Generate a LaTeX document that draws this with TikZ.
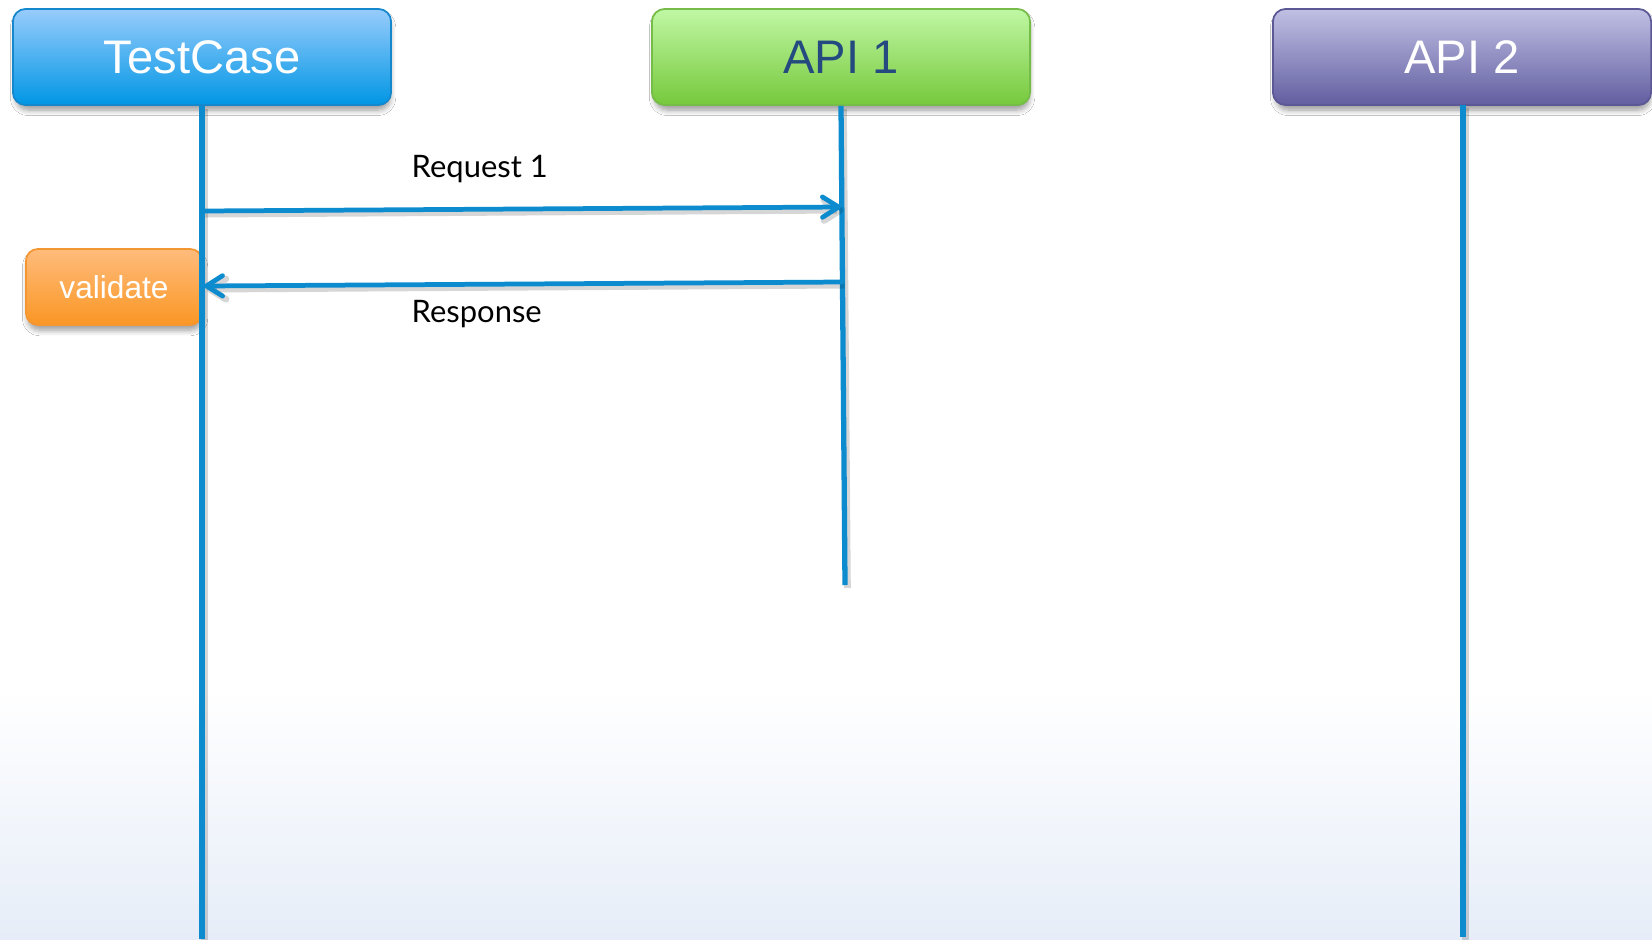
\documentclass[tikz,border=0pt]{standalone}
\usepackage{fontspec}
\setmainfont{Liberation Sans}
\newfontfamily\labelfont{Lato}
\usetikzlibrary{arrows.meta,shadows.blur}

\definecolor{wire}{RGB}{12,140,206}
\definecolor{bgblue}{RGB}{230,237,248}
\definecolor{tctop}{RGB}{152,204,252}
\definecolor{tcbot}{RGB}{0,150,228}
\definecolor{tcline}{RGB}{20,135,205}
\definecolor{atop}{RGB}{192,248,164}
\definecolor{abot}{RGB}{118,200,60}
\definecolor{aline}{RGB}{118,188,72}
\definecolor{atext}{RGB}{36,74,128}
\definecolor{btop}{RGB}{192,192,228}
\definecolor{bbot}{RGB}{98,94,160}
\definecolor{bline}{RGB}{92,88,150}
\definecolor{vtop}{RGB}{255,188,124}
\definecolor{vbot}{RGB}{250,150,36}
\definecolor{vline}{RGB}{244,150,50}

\tikzset{
  softshadow/.style={blur shadow={shadow xshift=0.3pt, shadow yshift=-1.6pt,
    shadow scale=0.99, shadow blur radius=1.6pt, shadow blur steps=8, shadow opacity=40}},
  header/.style={rounded corners=3.6pt, minimum width=3.78cm, minimum height=0.96cm,
    inner sep=0pt, font=\fontsize{13.4}{16}\selectfont, line width=0.5pt, softshadow},
  validbox/.style={rounded corners=3.4pt, minimum width=1.76cm, minimum height=0.76cm,
    inner sep=0pt, font=\fontsize{9}{11}\selectfont, text=white, line width=0.5pt,
    top color=vtop, bottom color=vbot, draw=vline, softshadow},
  wireshadow/.style={preaction={draw=black, draw opacity=0.16, line width=1.9pt,
    transform canvas={shift={(0.7pt,-0.9pt)}}}},
  lifeline/.style={draw=wire, line width=1.5pt, wireshadow},
  message/.style={draw=wire, line width=1.35pt, line cap=round, wireshadow,
    -{Straight Barb[length=4.6pt, width=5.8pt, line cap=round, line join=round]}},
  msglabel/.style={anchor=base west, inner sep=0pt, font=\labelfont\fontsize{8.8}{10}\selectfont}
}

\begin{document}
\begin{tikzpicture}[x=0.01cm, y=-0.01cm]
  \useasboundingbox (0,0) rectangle (1652,939);
  % background wash along the bottom
  \fill[white] (0,0) rectangle (1652,939);
  \shade[top color=white, bottom color=bgblue] (0,690) rectangle (1652,939);

  % participants
  \node[header, top color=tctop, bottom color=tcbot, draw=tcline, text=white] (tc) at (202,57) {TestCase};
  \node[header, top color=atop, bottom color=abot, draw=aline, text=atext] (api1) at (841,57) {API 1};
  \node[header, top color=btop, bottom color=bbot, draw=bline, text=white] (api2) at (1462,57) {API 2};

  % local step on the test case
  \node[validbox] (val) at (114,287) {validate};

  % lifeline ends
  \coordinate (tcend) at (202,939);
  \coordinate (a1end) at (845,585);
  \coordinate (a2end) at (1463,937);

  % lifelines
  \draw[lifeline] (tc.south) -- (tcend);
  \draw[lifeline] (api1.south) -- (a1end);
  \draw[lifeline] (1463,105) coordinate (a2top) -- (a2end);

  % message anchors on the lifelines
  \coordinate (reqfrom) at (203,211);
  \coordinate (reqto) at (841,207);
  \coordinate (resfrom) at (842,282);
  \coordinate (resto) at (204,286);

  % messages
  \draw[message] (reqfrom) -- (reqto);
  \draw[message] (resfrom) -- (resto);

  \node[msglabel] (reqlbl) at (411,177) {Request 1};
  \node[msglabel] (reslbl) at (411,322) {Response};
\end{tikzpicture}
\end{document}
